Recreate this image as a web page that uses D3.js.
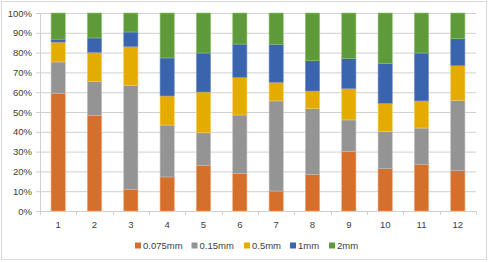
<!DOCTYPE html>
<html>
<head>
<meta charset="utf-8">
<script src="https://cdn.jsdelivr.net/npm/d3@7"></script>
<style>
  body { margin: 0; background: #fff; }
  #chart text { font-family: "Liberation Sans", Arial, sans-serif; fill: #404040; }
</style>
</head>
<body>
<div id="chart"></div>
<script>
// categories + series (percent of each bar)
const categories = ["1", "2", "3", "4", "5", "6", "7", "8", "9", "10", "11", "12"];
const seriesNames = ["0.075mm", "0.15mm", "0.5mm", "1mm", "2mm"];
const s075 = [59.5, 48.3, 11.0, 17.2, 23.1, 19.0, 10.1, 18.5, 30.1, 21.4, 23.6, 20.4];
const s015 = [15.8, 17.2, 52.5, 26.2, 16.4, 29.5, 45.5, 33.2, 15.9, 18.8, 18.3, 35.5];
const s05  = [10.0, 14.6, 19.5, 14.7, 20.6, 19.0, 9.4, 8.9, 15.8, 14.2, 13.7, 17.5];
const s1   = [1.5, 7.3, 7.4, 19.2, 19.7, 16.8, 19.2, 15.3, 15.3, 20.0, 24.2, 13.6];
const s2   = [13.2, 12.6, 9.6, 22.7, 20.2, 15.7, 15.8, 24.1, 22.9, 25.6, 20.2, 13.0];
const yTicks = [0, 10, 20, 30, 40, 50, 60, 70, 80, 90, 100];

const colors = ["#D4702B", "#949494", "#E5AC00", "#3A64AE", "#5E9A3A"];
const strokes = ["#F0A070", "#BDBDBD", "#F5CC55", "#7090D0", "#8EC46A"];

const W = 489, H = 262;
const margin = { top: 13, right: 13, bottom: 51, left: 40 };
const innerW = W - margin.left - margin.right;
const innerH = H - margin.top - margin.bottom;

const svg = d3.select("#chart").append("svg")
  .attr("width", W).attr("height", H);

// chart border
svg.append("rect")
  .attr("x", 1.5).attr("y", 1.5)
  .attr("width", W - 4).attr("height", H - 4)
  .attr("fill", "#fff").attr("stroke", "#D9D9D9");

const g = svg.append("g").attr("transform", `translate(${margin.left},${margin.top})`);

const table = categories.map((c, i) => ({
  cat: c,
  "0.075mm": s075[i], "0.15mm": s015[i], "0.5mm": s05[i], "1mm": s1[i], "2mm": s2[i]
}));
const stacked = d3.stack().keys(seriesNames)(table);

const x = d3.scaleBand().domain(categories).range([0, innerW]).paddingInner(0.61).paddingOuter(0.305);
const y = d3.scaleLinear().domain([0, 100]).range([innerH, 0]);

// horizontal gridlines (with short ticks left of the axis)
g.append("g")
  .call(d3.axisLeft(y).tickValues(yTicks).tickSize(-innerW - 4).tickFormat(""))
  .attr("transform", "translate(-4,0)")
  .call(a => a.select(".domain").remove())
  .selectAll("line").attr("stroke", "#D0D0D0");

// y labels
g.append("g")
  .call(d3.axisLeft(y).tickValues(yTicks).tickSize(0).tickPadding(8).tickFormat(d => d + "%"))
  .call(a => a.select(".domain").remove())
  .selectAll("text").style("font-size", "9.5px");

// y axis line
g.append("line")
  .attr("x1", 0.5).attr("x2", 0.5).attr("y1", 0).attr("y2", innerH)
  .attr("stroke", "#D0D0D0");

// bars
stacked.forEach((layer, k) => {
  g.append("g").selectAll("rect")
    .data(layer)
    .join("rect")
    .attr("x", d => x(d.data.cat))
    .attr("y", d => y(d[1]))
    .attr("width", x.bandwidth())
    .attr("height", d => y(d[0]) - y(d[1]))
    .attr("fill", colors[k])
    .attr("stroke", strokes[k])
    .attr("stroke-width", 0.6);
});

// x axis with ticks between categories
const step = x.step();
const xa = g.append("g").attr("transform", `translate(0,${innerH})`);
xa.append("line").attr("x1", 0).attr("x2", innerW).attr("y1", 0.5).attr("y2", 0.5).attr("stroke", "#D0D0D0");
xa.selectAll(".tk")
  .data(d3.range(categories.length + 1))
  .join("line")
  .attr("x1", i => Math.round(i * step) + 0.5)
  .attr("x2", i => Math.round(i * step) + 0.5)
  .attr("y1", 0).attr("y2", 4)
  .attr("stroke", "#D0D0D0");
xa.selectAll("text")
  .data(categories)
  .join("text")
  .attr("x", d => x(d) + x.bandwidth() / 2)
  .attr("y", 17)
  .attr("text-anchor", "middle")
  .style("font-size", "9.5px")
  .text(d => d);

// legend
const legendX = [135, 191.5, 244, 290, 329];
const legend = svg.append("g").attr("transform", "translate(0,246)");
seriesNames.forEach((name, k) => {
  legend.append("rect")
    .attr("x", legendX[k]).attr("y", -3.5)
    .attr("width", 6).attr("height", 6)
    .attr("fill", colors[k]);
  legend.append("text")
    .attr("x", legendX[k] + 8).attr("y", 3.2)
    .style("font-size", "9.5px")
    .text(name);
});
</script>
</body>
</html>
